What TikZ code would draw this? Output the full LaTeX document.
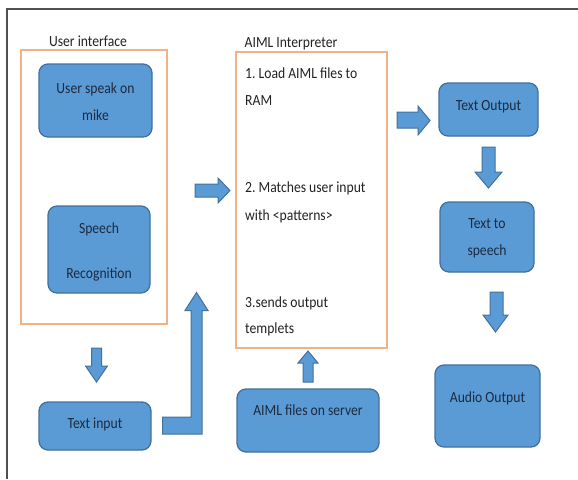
\documentclass[tikz,border=0pt]{standalone}
\usepackage{fontspec}
\setmainfont{Carlito}[FakeStretch=0.88]
\frenchspacing
\definecolor{boxblue}{HTML}{5B9BD5}
\definecolor{boxedge}{HTML}{41719C}
\definecolor{orng}{HTML}{F4B183}
\definecolor{navy}{HTML}{1B2A3F}
\definecolor{lbl}{HTML}{222222}
\definecolor{frame}{HTML}{505050}
\tikzset{
  bluebox/.style={draw=boxedge, fill=boxblue, line width=1.3pt, rounded corners=9pt,
    text=navy, align=center, inner sep=0pt, text height=11pt,
    font=\fontsize{15.5}{27}\selectfont},
  groupbox/.style={draw=orng, line width=1.4pt, inner sep=0pt},
  grouplabel/.style={text=lbl, anchor=base, inner sep=0pt, font=\fontsize{15.5}{19}\selectfont},
  steptext/.style={text=lbl, anchor=base west, inner sep=0pt, font=\fontsize{15.5}{19}\selectfont},
  blockarrow/.style={draw=boxedge, fill=boxblue, line width=1pt, line join=miter}
}
\begin{document}
\begin{tikzpicture}[x=1pt,y=-1pt]
\useasboundingbox (0,0) rectangle (578,479);
% frame
\draw[frame, line width=1.5pt] (7,479) -- (7,9) -- (578,9);

% group boxes
\node[groupbox, minimum width=146pt, minimum height=274pt] (ui) at (94,187) {};
\node[grouplabel] (uilbl) at (88,46.5) {User interface};
\node[groupbox, minimum width=151pt, minimum height=296pt] (interp) at (311.5,200) {};
\node[grouplabel] (interplbl) at (291,47) {AIML Interpreter};

% interpreter steps
\node[steptext] (s1a) at (245,78) {1. Load AIML files to};
\node[steptext] (s1b) at (245,105) {RAM};
\node[steptext] (s2a) at (245,192) {2. Matches user input};
\node[steptext] (s2b) at (245,220) {with <patterns>};
\node[steptext] (s3a) at (245,307) {3.sends output};
\node[steptext] (s3b) at (245,333) {templets};

% blue boxes
\node[bluebox, minimum width=113pt, minimum height=73pt, text height=39pt, text depth=0pt] (speak) at (95.5,100.5) {User speak on\\mike};
\node[bluebox, minimum width=102pt, minimum height=87pt, text height=57pt, text depth=0pt] (speech) at (99,249.5) {Speech\\[18pt]Recognition};
\node[bluebox, minimum width=112pt, minimum height=48pt, text depth=7pt] (textin) at (95,426) {Text input};
\node[bluebox, minimum width=142pt, minimum height=63pt, text depth=22pt] (aiml) at (308,420.5) {AIML files on server};
\node[bluebox, minimum width=99pt, minimum height=53pt, text depth=10pt] (textout) at (488.5,109.5) {Text Output};
\node[bluebox, minimum width=94pt, minimum height=70pt, text height=36pt, text depth=0pt] (tts) at (487,237) {Text to\\speech};
\node[bluebox, minimum width=105pt, minimum height=82pt, text depth=19pt] (audio) at (487.5,406) {Audio Output};

% block arrows
% ui -> text input
\draw[blockarrow] (91.5,348) -- (101.5,348) -- (101.5,366) -- (107.5,366) -- (96.5,382) -- (85.5,366) -- (91.5,366) -- cycle;
% ui -> interpreter
\draw[blockarrow] (195,184) -- (218,184) -- (218,178) -- (230,190.5) -- (218,203) -- (218,197) -- (195,197) -- cycle;
% text input -> interpreter (bent)
\draw[blockarrow] (162.5,417) -- (191,417) -- (191,310.5) -- (185,310.5) -- (196.5,292.5) -- (208,310.5) -- (202,310.5) -- (202,434) -- (162.5,434) -- cycle;
% aiml files -> interpreter
\draw[blockarrow] (303,382) -- (303,363) -- (298,363) -- (308,351) -- (318,363) -- (313,363) -- (313,382) -- cycle;
% interpreter -> text output
\draw[blockarrow] (397,112) -- (418,112) -- (418,106) -- (430,120.5) -- (418,135) -- (418,128) -- (397,128) -- cycle;
% text output -> tts
\draw[blockarrow] (482,147) -- (495,147) -- (495,172) -- (502,172) -- (488.5,188) -- (475,172) -- (482,172) -- cycle;
% tts -> audio
\draw[blockarrow] (490,292) -- (503,292) -- (503,315) -- (508,315) -- (495.5,332) -- (483,315) -- (490,315) -- cycle;
\end{tikzpicture}
\end{document}
